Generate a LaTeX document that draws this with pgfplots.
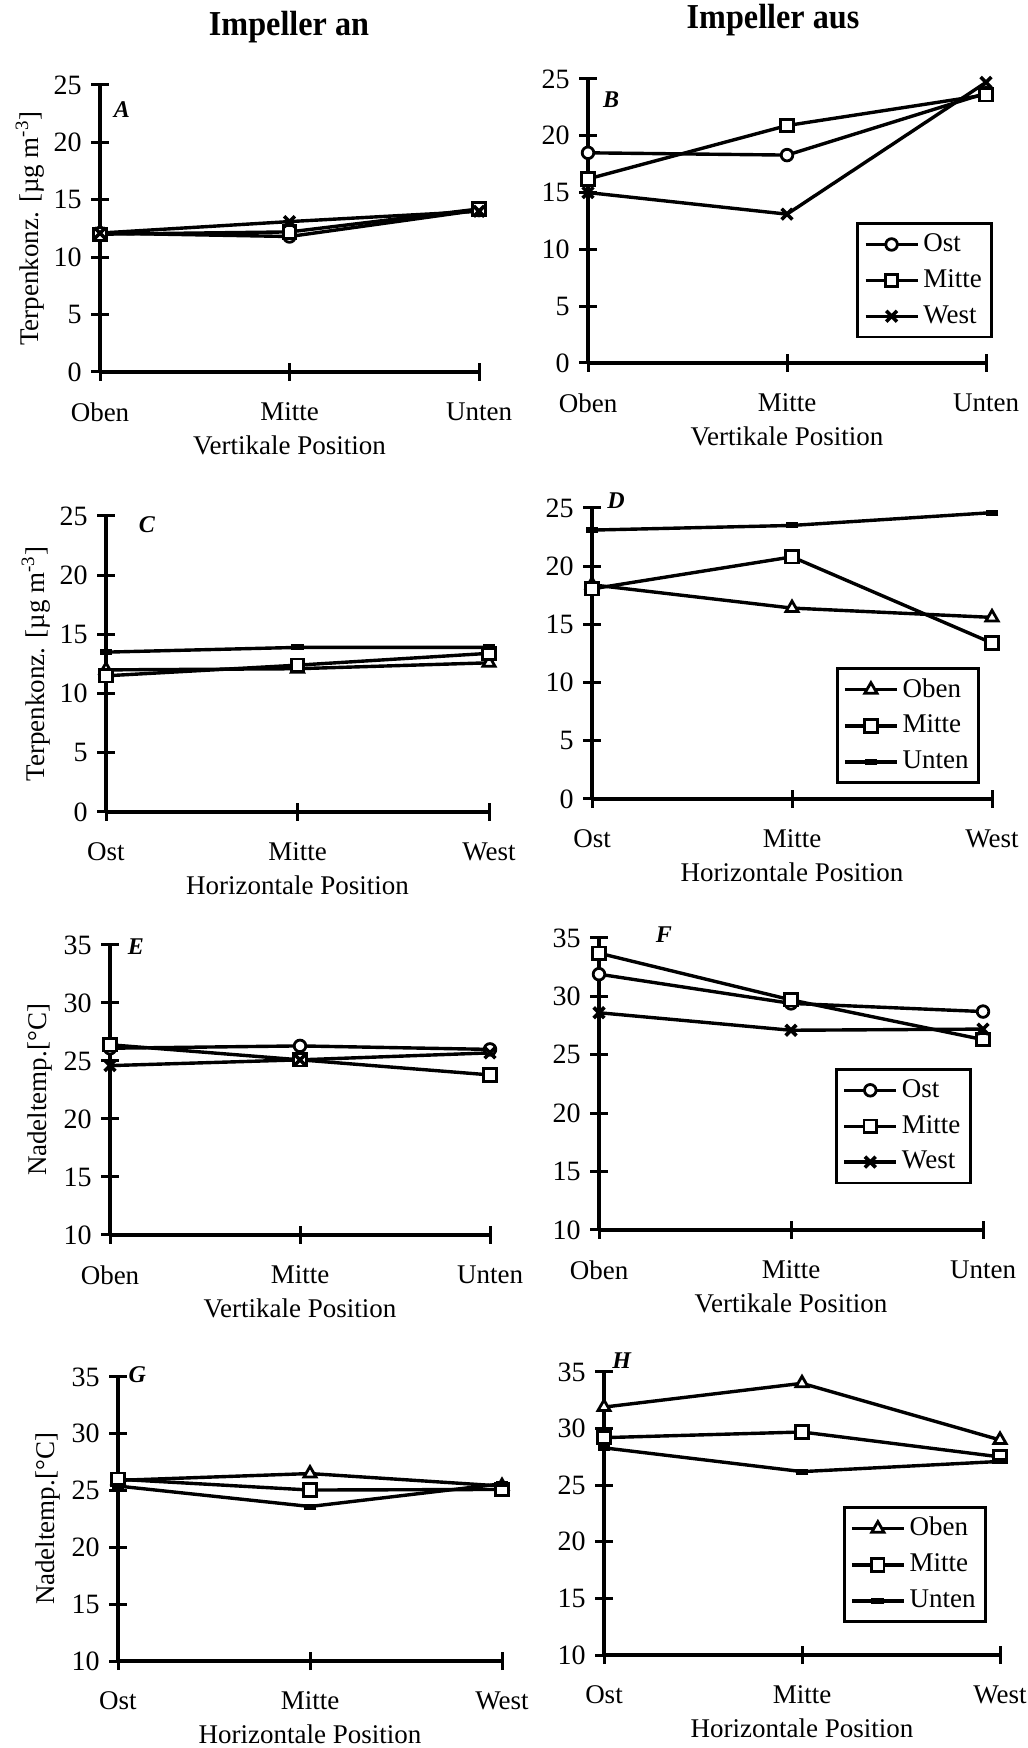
\documentclass[border=0pt]{standalone}
\usepackage{pgfplots}
\pgfplotsset{compat=1.18}
\usepackage{fontspec}
\setmainfont{Liberation Serif}
\newfontfamily\titlefont[FakeStretch=0.92]{Liberation Serif}

\pgfplotsset{
  panel/.style={
    scale only axis,
    axis lines=left,
    axis line style={-, line width=1.7pt},
    tick align=center,
    major tick length=9pt,
    tick style={line width=1.5pt, black},
    xmin=0, xmax=2, xtick={0,1,2},
    clip=false,
    yticklabel style={font=\fontsize{14}{16}\selectfont},
    xticklabel style={yshift=-6pt},
    every axis plot/.append style={line width=1.7pt, black},
    legend style={draw=black, line width=1.4pt, anchor=north east,
      font=\fontsize{13.5}{16}\selectfont, row sep=3pt, inner sep=3pt},
    legend cell align=left,
    legend image code/.code={\draw[mark repeat=2,mark phase=2]
      plot coordinates {(0pt,0pt)(13pt,0pt)(26pt,0pt)};},
  },
  conc/.style={panel, ymin=0, ymax=25, ytick={0,5,...,25},
    yticklabels={0,5,10,15,20,25}},
  temp/.style={panel, ymin=10, ymax=35, ytick={10,15,...,35},
    yticklabels={10,15,20,25,30,35}},
  vert/.style={xticklabels={Oben,Mitte,Unten},
    xlabel={Vertikale Position},
    xlabel style={at={([yshift=-36.5pt]axis description cs:0.5,0)}, anchor=center}},
  horiz/.style={xticklabels={Ost,Mitte,West},
    xlabel={Horizontale Position},
    xlabel style={at={([yshift=-36.5pt]axis description cs:0.5,0)}, anchor=center}},
  ylab/.style={ylabel={#1},
    ylabel style={at={([xshift=-35pt]axis description cs:0,0.5)}, anchor=center}},
  ost/.style={mark=*, mark size=2.9pt, mark options={solid, fill=white, line width=1.4pt}},
  mid/.style={mark=square*, mark size=3.1pt, mark options={solid, fill=white, line width=1.4pt}},
  west/.style={mark=x, mark size=3.8pt, mark options={solid, line width=1.8pt}},
  oben/.style={mark=triangle*, mark size=3.5pt, mark options={solid, fill=white, line width=1.4pt}},
  unten/.style={mark=-, mark size=3.2pt, mark options={solid, line width=3pt}},
}
\newcommand{\plabel}[3]{\node[font=\bfseries\itshape\fontsize{12}{14}\selectfont] at (rel axis cs:#1,#2) {#3};}

\begin{document}
\fontsize{13.5}{16}\selectfont
\begin{tikzpicture}

% A
\begin{axis}[conc, vert, ylab={Terpenkonz. [µg m\textsuperscript{-3}]},
  at={(50pt,688pt)}, anchor=south west, width=189.5pt, height=143.5pt]
\addplot[ost] coordinates {(0,12.1) (1,11.8) (2,14.1)};
\addplot[mid] coordinates {(0,12.0) (1,12.2) (2,14.2)};
\addplot[west] coordinates {(0,12.1) (1,13.1) (2,14.0)};
\plabel{0.058}{0.913}{A}
\end{axis}

% B
\begin{axis}[conc, vert,
  at={(294pt,692.5pt)}, anchor=south west, width=199pt, height=142pt,
  legend style={at={(1.018,0.496)}}]
\addplot[ost] coordinates {(0,18.5) (1,18.3) (2,23.75)};
\addplot[mid] coordinates {(0,16.2) (1,20.9) (2,23.6)};
\addplot[west] coordinates {(0,15.0) (1,13.1) (2,24.7)};
\legend{Ost,Mitte,West}
\plabel{0.058}{0.926}{B}
\end{axis}

% C
\begin{axis}[conc, horiz, ylab={Terpenkonz. [µg m\textsuperscript{-3}]},
  at={(53pt,468pt)}, anchor=south west, width=191.5pt, height=148pt]
\addplot[oben] coordinates {(0,12.0) (1,12.1) (2,12.6)};
\addplot[mid] coordinates {(0,11.5) (1,12.4) (2,13.4)};
\addplot[unten] coordinates {(0,13.5) (1,13.9) (2,13.9)};
\plabel{0.107}{0.970}{C}
\end{axis}

% D
\begin{axis}[conc, horiz,
  at={(296pt,474.5pt)}, anchor=south west, width=200pt, height=145.5pt,
  legend style={at={(0.97,0.454)}}]
\addplot[oben] coordinates {(0,18.4) (1,16.4) (2,15.6)};
\addplot[mid] coordinates {(0,18.05) (1,20.8) (2,13.4)};
\addplot[unten] coordinates {(0,23.1) (1,23.5) (2,24.6)};
\legend{Oben,Mitte,Unten}
\plabel{0.06}{1.024}{D}
\end{axis}

% E
\begin{axis}[temp, vert, ylab={Nadeltemp.[°C]},
  at={(55pt,256.5pt)}, anchor=south west, width=190pt, height=145pt]
\addplot[ost] coordinates {(0,26.1) (1,26.3) (2,26.0)};
\addplot[mid] coordinates {(0,26.4) (1,25.1) (2,23.8)};
\addplot[west] coordinates {(0,24.6) (1,25.1) (2,25.7)};
\plabel{0.068}{0.993}{E}
\end{axis}

% F
\begin{axis}[temp, vert,
  at={(299.5pt,259pt)}, anchor=south west, width=192pt, height=146pt,
  legend style={at={(0.971,0.555)}}]
\addplot[ost] coordinates {(0,31.9) (1,29.4) (2,28.7)};
\addplot[mid] coordinates {(0,33.7) (1,29.7) (2,26.3)};
\addplot[west] coordinates {(0,28.6) (1,27.1) (2,27.2)};
\legend{Ost,Mitte,West}
\plabel{0.169}{1.01}{F}
\end{axis}

% G
\begin{axis}[temp, horiz, ylab={Nadeltemp.[°C]},
  at={(59pt,43.5pt)}, anchor=south west, width=192pt, height=142pt]
\addplot[oben] coordinates {(0,25.9) (1,26.5) (2,25.4)};
\addplot[mid] coordinates {(0,26.0) (1,25.05) (2,25.1)};
\addplot[unten] coordinates {(0,25.4) (1,23.6) (2,25.6)};
\plabel{0.05}{1.007}{G}
\end{axis}

% H
\begin{axis}[temp, horiz,
  at={(302pt,46.5pt)}, anchor=south west, width=198pt, height=141.5pt,
  legend style={at={(0.967,0.527)}}]
\addplot[oben] coordinates {(0,31.9) (1,34.0) (2,29.0)};
\addplot[mid] coordinates {(0,29.2) (1,29.7) (2,27.5)};
\addplot[unten] coordinates {(0,28.3) (1,26.2) (2,27.1)};
\legend{Oben,Mitte,Unten}
\plabel{0.045}{1.039}{H}
\end{axis}

\node[font=\titlefont\fontsize{17.5}{20}\selectfont\bfseries] at (144.5pt,860.5pt) {Impeller an};
\node[font=\titlefont\fontsize{17.5}{20}\selectfont\bfseries] at (386.5pt,864pt) {Impeller aus};

\pgfresetboundingbox
\path (0,0) rectangle (513.5pt,874pt);
\end{tikzpicture}
\end{document}
